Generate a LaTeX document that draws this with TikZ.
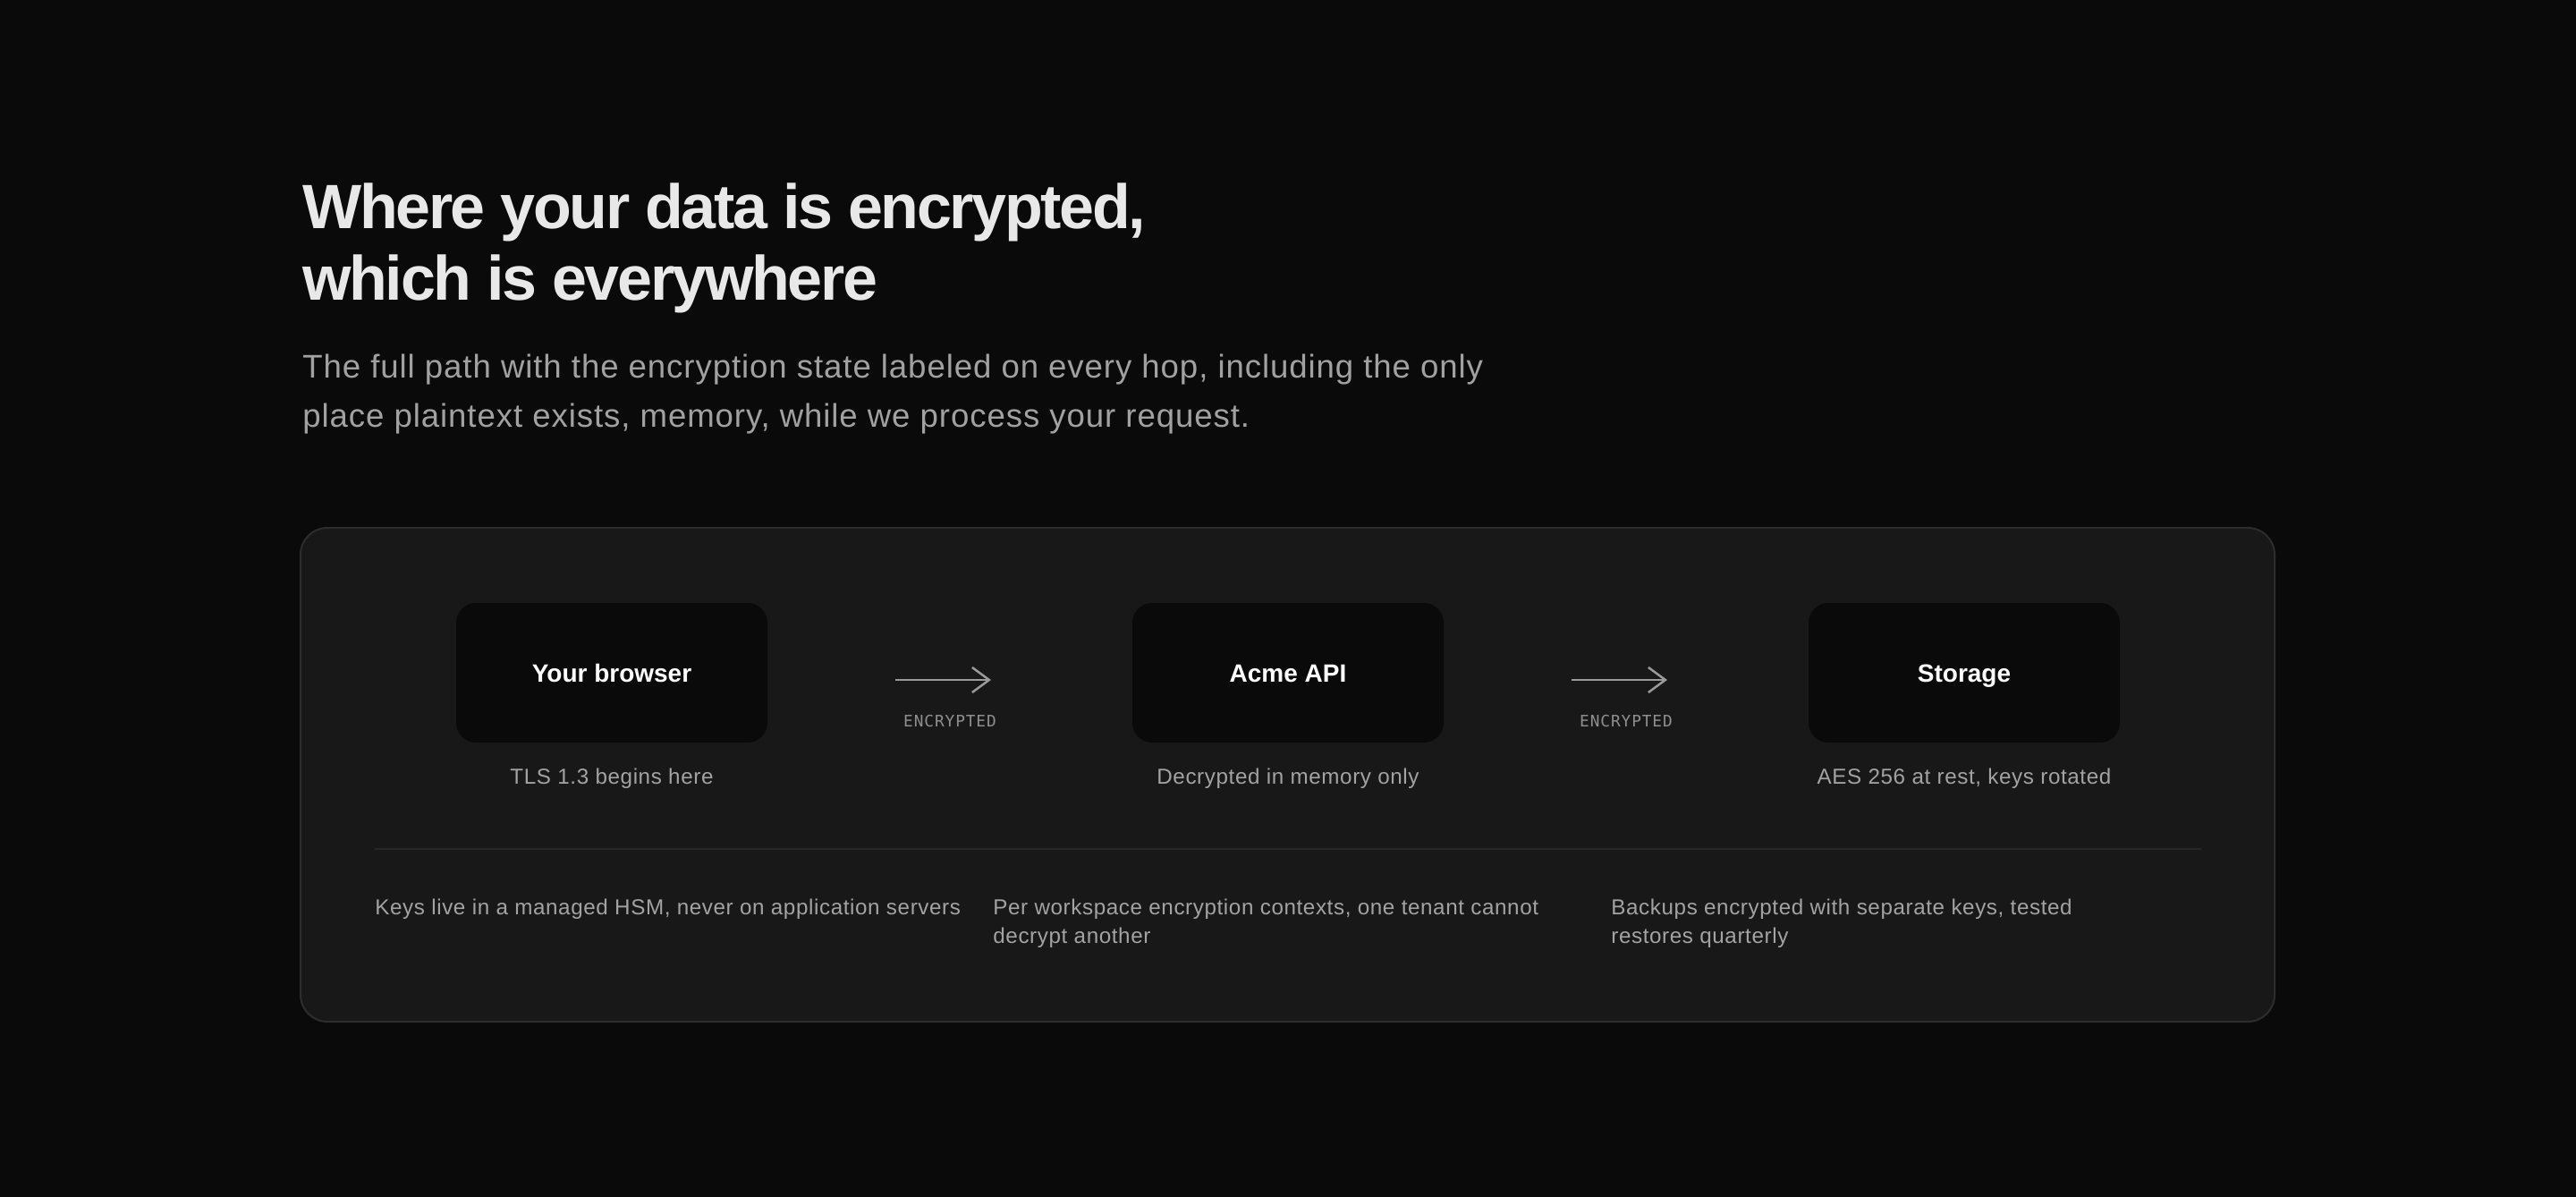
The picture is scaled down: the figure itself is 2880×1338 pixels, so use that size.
\documentclass[tikz,border=0pt]{standalone}
\usepackage{fontspec}
\setmainfont{Liberation Sans}
\newfontfamily\titlef{Liberation Sans}[LetterSpace=-3.4]
\newfontfamily\bodyf{Liberation Sans}[LetterSpace=2.5]
\newfontfamily\monof{DejaVu Sans Mono}[LetterSpace=5]
\usetikzlibrary{arrows.meta}
\definecolor{bg}{HTML}{0A0A0A}
\definecolor{panel}{HTML}{181818}
\definecolor{panelline}{HTML}{2D2D2D}
\definecolor{boxfill}{HTML}{0A0A0A}
\definecolor{titlec}{HTML}{E8E8E8}
\definecolor{subc}{HTML}{A1A1A1}
\definecolor{capc}{HTML}{A3A3A3}
\definecolor{arrowc}{HTML}{9A9A9A}
\definecolor{monoc}{HTML}{8F8F8F}
\definecolor{divc}{HTML}{272727}
\begin{document}
\begin{tikzpicture}[x=0.5pt,y=-0.5pt,
  titletext/.style={anchor=base west,inner sep=0pt,text=titlec,font=\titlef\bfseries\fontsize{35}{40}\selectfont},
  subtext/.style={anchor=base west,inner sep=0pt,text=subc,font=\bodyf\fontsize{18.3}{27.5}\selectfont},
  hopbox/.style={draw=none,fill=boxfill,rounded corners=11pt,minimum width=174pt,minimum height=78pt,inner sep=0pt},
  hoplabel/.style={anchor=base,inner sep=0pt,text=white,font=\bfseries\fontsize{14}{16}\selectfont},
  hopcaption/.style={anchor=base,inner sep=0pt,text=capc,font=\bodyf\fontsize{12.1}{14}\selectfont},
  hoparrow/.style={draw=arrowc,line width=1.25pt,-{Straight Barb[length=9.5pt,width=14pt,line width=1.25pt]}},
  encl/.style={anchor=base,inner sep=0pt,text=monoc,font=\monof\fontsize{8.9}{10}\selectfont},
  notetext/.style={anchor=base west,inner sep=0pt,text=capc,align=left,font=\bodyf\fontsize{12.1}{16}\selectfont}
]
\fill[bg] (0,0) rectangle (2880,1338);
\useasboundingbox (0,0) rectangle (2880,1338);

% heading
\node[titletext] (title1) at (338,255) {Where your data is encrypted,};
\node[titletext] (title2) at (338,335) {which is everywhere};
\node[subtext] (sub1) at (338,422) {The full path with the encryption state labeled on every hop, including the only};
\node[subtext] (sub2) at (338,477) {place plaintext exists, memory, while we process your request.};

% panel
\draw[panelline,fill=panel,line width=1pt,rounded corners=15pt] (336,590) rectangle (2543,1142);

% hops
\node[hopbox] (browser) at (684,752) {};
\node[hopbox] (api) at (1440,752) {};
\node[hopbox] (storage) at (2196,752) {};
\node[hoplabel] (browserl) at (684,762) {Your browser};
\node[hoplabel] (apil) at (1440,762) {Acme API};
\node[hoplabel] (storagel) at (2196,762) {Storage};
\node[hopcaption] (browserc) at (684,876) {TLS 1.3 begins here};
\node[hopcaption] (apic) at (1440,876) {Decrypted in memory only};
\node[hopcaption] (storagec) at (2196,876) {AES 256 at rest, keys rotated};

% arrows
\coordinate (a1s) at (1001,760);
\coordinate (a1e) at (1108,760);
\coordinate (a2s) at (1757,760);
\coordinate (a2e) at (1864,760);
\draw[hoparrow] (a1s) -- (a1e);
\draw[hoparrow] (a2s) -- (a2e);
\node[encl] (enc1) at (1062,812) {ENCRYPTED};
\node[encl] (enc2) at (1818,812) {ENCRYPTED};

% divider
\coordinate (dvs) at (419,949);
\coordinate (dve) at (2461,949);
\draw[divc,line width=1pt] (dvs) -- (dve);

% notes (anchor base = last line)
\node[notetext] (note1) at (419,1022) {Keys live in a managed HSM, never on application servers};
\node[notetext] (note2) at (1110,1054) {Per workspace encryption contexts, one tenant cannot\\decrypt another};
\node[notetext] (note3) at (1801,1054) {Backups encrypted with separate keys, tested\\restores quarterly};
\end{tikzpicture}
\end{document}
